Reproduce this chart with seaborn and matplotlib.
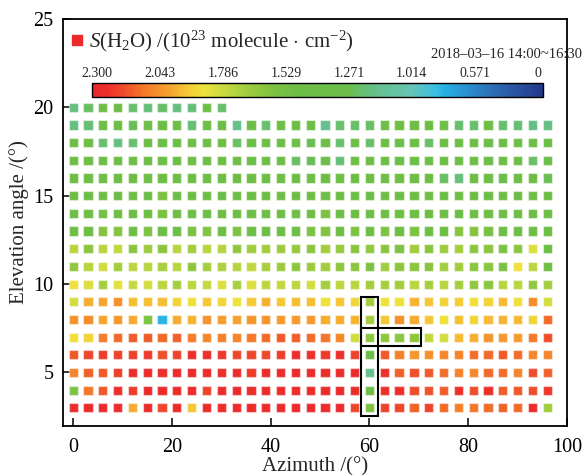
import numpy as np
import pandas as pd
import seaborn as sns
import matplotlib
matplotlib.use("Agg")
import matplotlib.pyplot as plt
from matplotlib.colors import LinearSegmentedColormap, Normalize
from matplotlib.cm import ScalarMappable
from matplotlib.lines import Line2D
from matplotlib.patches import Rectangle

# Scan geometry
azimuths = [0, 3, 6, 9, 12, 15, 18, 21, 24, 27, 30, 33, 36, 39, 42, 45, 48,
            51, 54, 57, 60, 63, 66, 69, 72, 75, 78, 81, 84, 87, 90, 93, 96]
elevations = [3, 4, 5, 6, 7, 8, 9, 10, 11, 12, 13, 14, 15, 16, 17, 18, 19, 20]

# Slant column S(H2O), 1e23 molecule/cm^2, one list per elevation angle
el_03 = [2.28, 2.28, 2.28, 2.28, 1.98, 2.28, 2.20, 2.28, 1.94, 2.28, 2.28, 2.28,
         2.28, 2.28, 2.28, 2.28, 2.28, 2.28, 2.28, 2.20, 1.58, 2.21, 2.20,
         2.15, 2.21, 2.14, 2.09, 2.11, 2.13, 2.15, 2.14, 2.28, 1.69]
el_04 = [1.58, 2.11, 2.17, 2.26, 2.23, 2.28, 2.28, 2.28, 2.28, 2.21, 2.28, 2.28,
         2.28, 2.28, 2.28, 2.28, 2.28, 2.28, 2.28, 2.28, 1.45, 2.25, 2.26,
         2.19, 2.18, 2.16, 2.25, 2.19, 2.25, 2.16, 2.17, 2.19, 2.24]
el_05 = [2.08, 2.15, 2.17, 2.22, 2.28, 2.28, 2.26, 2.28, 2.28, 2.28, 2.26, 2.28,
         2.23, 2.28, 2.28, 2.28, 2.28, 2.28, 2.28, 2.28, 1.15, 2.25, 2.15,
         2.19, 2.17, 2.13, 2.08, 2.07, 2.14, 2.13, 2.08, 2.19, 2.15]
el_06 = [2.17, 2.20, 2.23, 2.21, 2.22, 2.23, 2.18, 2.21, 2.26, 2.26, 2.24, 2.20,
         2.20, 2.20, 2.23, 2.26, 2.25, 2.24, 2.26, 2.21, 1.45, 2.17, 2.09,
         2.03, 2.05, 2.08, 2.08, 2.13, 2.14, 2.17, 2.13, 2.07, 2.08]
el_07 = [1.87, 1.91, 2.10, 2.14, 2.16, 2.17, 2.14, 2.15, 2.10, 2.07, 2.09, 2.08,
         2.11, 2.14, 2.17, 2.16, 2.14, 2.12, 2.07, 1.80, 1.63, 1.63, 1.63,
         1.63, 1.77, 1.81, 1.96, 1.98, 2.04, 2.03, 2.02, 2.11, 2.19]
el_08 = [2.05, 2.06, 2.00, 2.03, 1.99, 1.58, 0.80, 1.99, 1.97, 2.04, 2.02, 2.00,
         2.04, 2.04, 2.02, 2.02, 2.02, 1.99, 1.99, 1.97, 1.69, 1.94, 2.05,
         1.99, 1.94, 1.87, 1.95, 1.91, 1.96, 1.97, 1.96, 1.91, 2.14]
el_09 = [1.81, 1.98, 2.00, 2.05, 1.95, 1.95, 1.95, 1.91, 1.87, 1.94, 1.90, 1.87,
         1.92, 1.98, 1.94, 1.95, 1.95, 1.87, 1.94, 1.90, 1.70, 1.87, 1.87,
         1.97, 1.94, 1.91, 1.92, 1.87, 1.91, 1.96, 1.87, 2.06, 1.81]
el_10 = [1.87, 1.82, 1.70, 1.84, 1.78, 1.81, 1.76, 1.70, 1.76, 1.78, 1.83, 1.71,
         1.83, 1.76, 1.77, 1.76, 1.81, 1.70, 1.76, 1.75, 1.69, 1.70, 1.69,
         1.75, 1.70, 1.75, 1.70, 1.64, 1.63, 1.75, 1.75, 1.64, 1.69]
el_11 = [1.64, 1.75, 1.80, 1.70, 1.76, 1.75, 1.71, 1.75, 1.63, 1.70, 1.72, 1.74,
         1.77, 1.71, 1.68, 1.63, 1.68, 1.69, 1.63, 1.63, 1.58, 1.69, 1.63,
         1.63, 1.62, 1.69, 1.69, 1.63, 1.63, 1.57, 1.87, 1.76, 1.47]
el_12 = [1.75, 1.63, 1.75, 1.77, 1.63, 1.68, 1.63, 1.75, 1.69, 1.75, 1.74, 1.64,
         1.69, 1.69, 1.68, 1.66, 1.63, 1.69, 1.66, 1.62, 1.64, 1.62, 1.58,
         1.69, 1.62, 1.68, 1.70, 1.63, 1.63, 1.58, 1.63, 1.83, 1.47]
el_13 = [1.47, 1.47, 1.60, 1.60, 1.47, 1.58, 1.47, 1.47, 1.57, 1.60, 1.47, 1.58,
         1.47, 1.47, 1.47, 1.47, 1.58, 1.60, 1.47, 1.58, 1.47, 1.58, 1.47,
         1.58, 1.47, 1.47, 1.61, 1.60, 1.55, 1.47, 1.47, 1.47, 1.47]
el_14 = [1.45, 1.45, 1.52, 1.47, 1.45, 1.47, 1.57, 1.45, 1.45, 1.47, 1.45, 1.47,
         1.45, 1.45, 1.45, 1.45, 1.48, 1.58, 1.45, 1.47, 1.45, 1.47, 1.45,
         1.47, 1.45, 1.45, 1.45, 1.46, 1.45, 1.45, 1.45, 1.45, 1.45]
el_15 = [1.45, 1.45, 1.48, 1.45, 1.45, 1.45, 1.58, 1.45, 1.45, 1.45, 1.45, 1.45,
         1.45, 1.45, 1.45, 1.45, 1.45, 1.45, 1.45, 1.45, 1.32, 1.45, 1.45,
         1.45, 1.45, 1.45, 1.45, 1.45, 1.45, 1.45, 1.45, 1.45, 1.45]
el_16 = [1.46, 1.45, 1.44, 1.47, 1.45, 1.45, 1.46, 1.45, 1.45, 1.44, 1.45, 1.45,
         1.45, 1.45, 1.45, 1.45, 1.45, 1.45, 1.45, 1.45, 1.45, 1.45, 1.45,
         1.45, 1.45, 1.24, 1.19, 1.45, 1.45, 1.28, 1.45, 1.45, 1.26]
el_17 = [1.45, 1.45, 1.45, 1.45, 1.45, 1.42, 1.45, 1.45, 1.45, 1.45, 1.45, 1.43,
         1.45, 1.45, 1.45, 1.24, 1.25, 1.28, 1.20, 1.45, 1.45, 1.45, 1.45,
         1.45, 1.45, 1.45, 1.45, 1.45, 1.28, 1.45, 1.45, 1.24, 1.27]
el_18 = [1.42, 1.42, 1.22, 1.17, 1.22, 1.45, 1.45, 1.45, 1.45, 1.45, 1.42, 1.24,
         1.45, 1.45, 1.45, 1.45, 1.26, 1.45, 1.22, 1.45, 1.23, 1.42, 1.45,
         1.45, 1.23, 1.45, 1.45, 1.45, 1.27, 1.45, 1.45, 1.42, 1.42]
el_19 = [1.18, 1.21, 1.45, 1.45, 1.25, 1.43, 1.42, 1.45, 1.21, 1.45, 1.38, 1.16,
         1.45, 1.22, 1.45, 1.45, 1.42, 1.15, 1.22, 1.23, 1.24, 1.42, 1.45,
         1.45, 1.45, 1.45, 1.22, 1.22, 1.42, 1.22, 1.21, 1.17, 1.18]
el_20 = [1.18, 1.24, 1.45, 1.44, 1.22, 1.21, 1.23, 1.19, 1.20, 1.43, 1.22]

rows = [el_03, el_04, el_05, el_06, el_07, el_08, el_09, el_10, el_11, el_12,
        el_13, el_14, el_15, el_16, el_17, el_18, el_19, el_20]

# Colour-bar tick values (equally spaced on the bar, high values on the left)
cbar_values = [2.300, 2.043, 1.786, 1.529, 1.271, 1.014, 0.571, 0.0]
cbar_labels = ["2.300", "2.043", "1.786", "1.529", "1.271", "1.014", "0.571", "0"]

date_text = "2018\u201303\u201316 14:00~16:30"

# Highlighted scan column / row
hl_azimuth = 60
hl_elev_range = (3, 9)
hl_elevation = 7
hl_az_range = (60, 69)

# ---------------------------------------------------------------------------
records = []
for el, vals in zip(elevations, rows):
    for az, v in zip(azimuths, vals):
        records.append({"azimuth": az, "elevation": el, "scd": v})
df = pd.DataFrame(records)

idx = np.arange(len(cbar_values), dtype=float)
# position along the bar (0 = 2.300 ... 7 = 0)
df["pos"] = np.interp(df["scd"], cbar_values[::-1], idx[::-1])

lo, hi = -0.085, 7.085
anchors = [(-0.085, "#E9262B"), (0.0, "#EA2A2B"), (0.16, "#EC302B"), (0.27, "#EE3D2A"),
           (0.39, "#EE4A2A"), (0.51, "#F05A29"), (0.62, "#F16A2A"), (0.74, "#F47A2B"),
           (0.86, "#F5862B"), (0.96, "#F5902C"), (1.17, "#F6A630"), (1.27, "#F6B432"),
           (1.39, "#F5C434"), (1.51, "#F2D238"), (1.68, "#EDE33B"), (1.9, "#D5DD40"),
           (2.14, "#B8D540"), (2.38, "#A0CC3F"), (2.6, "#8DC63F"), (2.8, "#7DC242"),
           (3.2, "#6CBE45"), (4.0, "#6BBE4A"), (4.23, "#67BF75"), (4.36, "#65BF80"),
           (4.47, "#66C08E"), (5.0, "#66C5B5"), (5.4, "#3ABDE3"), (5.5, "#27B2E6"),
           (6.0, "#2A86C8"), (6.5, "#2C5EA9"), (7.0, "#243E8E"), (7.085, "#233A88")]
cmap = LinearSegmentedColormap.from_list(
    "scd", [((p - lo) / (hi - lo), c) for p, c in anchors])
norm = Normalize(lo, hi)

sns.set_theme(style="ticks")
plt.rcParams["font.family"] = ["Liberation Serif", "DejaVu Serif"]
plt.rcParams["mathtext.fontset"] = "custom"
plt.rcParams["mathtext.rm"] = "Liberation Serif"
plt.rcParams["mathtext.it"] = "Liberation Serif:italic"

fig = plt.figure(figsize=(5.84, 4.75), dpi=100)
ax = fig.add_axes([63.3 / 584, 1 - 425.5 / 475, (567 - 63.3) / 584, (425.5 - 19) / 475])

sns.scatterplot(data=df, x="azimuth", y="elevation", hue="pos", palette=cmap,
                hue_norm=norm, marker="s", s=44, linewidth=0.9,
                edgecolor=(1, 1, 1, 0.45), legend=False, ax=ax, zorder=2)

# highlight boxes
ax.add_patch(Rectangle((hl_azimuth - 1.8, hl_elev_range[0] - 0.45), 3.6,
                       hl_elev_range[1] - hl_elev_range[0] + 0.72,
                       fill=False, ec="black", lw=1.5, zorder=3))
ax.add_patch(Rectangle((hl_az_range[0] - 1.8, hl_elevation - 0.48),
                       hl_az_range[1] - hl_az_range[0] + 3.3, 1.0,
                       fill=False, ec="black", lw=1.5, zorder=3))

ax.set_xlim(-2, 100)
ax.set_ylim(2, 25)
ax.set_xticks([0, 20, 40, 60, 80, 100])
ax.set_yticks([5, 10, 15, 20, 25])
ax.tick_params(direction="in", length=6, width=1.1, labelsize=14.5, colors="black",
               top=False, right=False)
ax.tick_params(axis="x", pad=9)
ax.tick_params(axis="y", pad=7)
for sp in ax.spines.values():
    sp.set_visible(True)
    sp.set_linewidth(1.3)
    sp.set_color("black")
ax.set_xlabel("Azimuth /(°)", fontsize=15, labelpad=0)
ax.set_ylabel("Elevation angle /(°)", fontsize=15, labelpad=3)

handle = Line2D([], [], marker="s", ls="", color="#EA2A2B", markersize=7)
ax.legend([handle], [r"$S$(H$_2$O) /(10$^{23}$ molecule$\,\cdot\,$cm$^{-2}$)"],
          loc="upper left", bbox_to_anchor=(-0.012, 1.012), frameon=False,
          fontsize=15, handlelength=0.5, handletextpad=0.3, borderaxespad=0.3)

fig.text(0.997, 1 - 55 / 475, date_text, ha="right", va="center", fontsize=10.5)

cax = fig.add_axes([92 / 584, 1 - 97 / 475, (543 - 92) / 584, 14 / 475])
cb = fig.colorbar(ScalarMappable(norm=norm, cmap=cmap), cax=cax, orientation="horizontal")
cb.set_ticks(list(idx))
cb.set_ticklabels(cbar_labels)
cax.xaxis.set_ticks_position("top")
cax.xaxis.set_label_position("top")
cax.tick_params(direction="in", length=6, width=1, labelsize=10, pad=2)
cb.outline.set_linewidth(1.0)
cb.outline.set_edgecolor("black")

fig.savefig("out.png", dpi=100)
